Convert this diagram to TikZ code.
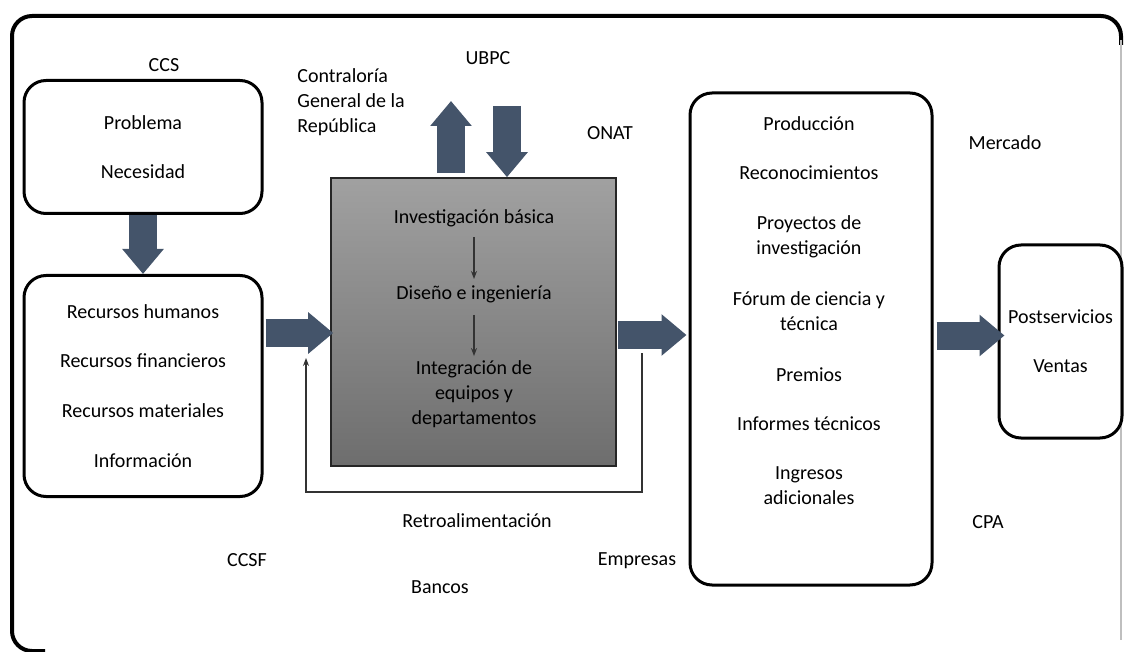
\documentclass[tikz,border=0pt]{standalone}
\usepackage{fontspec}
\setmainfont{Carlito}
\usetikzlibrary{arrows.meta, positioning, calc}
\definecolor{slateblue}{HTML}{44546A}
\tikzset{%
	round box/.style={
		draw,
		line width=1.5pt,
		rounded corners=11pt,
		align=center,
		inner sep=0pt
	},
	fat arrow/.style={
		draw=slateblue,
		line width=14pt,
		-{Triangle[width=20pt,length=12.5pt]}
	},
	thin arrow/.style={
		draw=black!80,
		line width=0.6pt,
		-{Stealth[length=4pt,width=3pt]}
	},
}

\begin{document}
\begin{tikzpicture}[
			x=0.5pt, y=-0.5pt,
			every node/.style={font=\fontsize{10pt}{12.5pt}\selectfont, align=center, inner sep=0pt},
			core text/.style={inner sep=1pt}
			]
			\useasboundingbox (0,0) rectangle (1124,652);
			
			% outer frame
			\draw[line width=2pt, rounded corners=10pt] (1121,45) -- (1121,16) -- (12,16) -- (12,651) -- (45,651);
			\draw[black!25, line width=0.8pt] (1121,40) -- (1121,640);
			
			% boxes
			\node[round box, minimum width=119pt, minimum height=66.5pt] (needs) at (143,147) {Problema\\[12pt]Necesidad};
			\node[round box, minimum width=119pt, minimum height=110.5pt] (inputs) at (143,386) {Recursos humanos\\[12pt]Recursos financieros\\[12.5pt]Recursos materiales\\[12.5pt]Información};
			\node[draw=black!85, line width=0.8pt, top color=black!37, bottom color=black!57,
				minimum width=142.5pt, minimum height=144pt] (core) at (473.5,322) {};
			\node[round box, minimum width=121pt, minimum height=246pt] (outputs) at (811,339) {};
			\node[round box, minimum width=61.5pt, minimum height=96.5pt] (final) at (1060.5,341.5) {Postservicios\\[12pt]Ventas};
			
			% box contents
			\node (outtext) at (809,311) {Producción\\[12pt]Reconocimientos\\[12.5pt]Proyectos de\\investigación\\[13pt]Fórum de ciencia y\\técnica\\[13pt]Premios\\[12pt]Informes técnicos\\[12pt]Ingresos\\adicionales};
			\node[core text] (basic) at (474,218) {Investigación básica};
			\node[core text] (design) at (474,294) {Diseño e ingeniería};
			\node[core text] (integ) at (474,394) {Integración de\\equipos y\\departamentos};
			
			% labels
			\node (ccs) at (164,65) {CCS};
			\node[anchor=west, align=left] (cgr) at (297,102) {Contraloría\\General de la\\República};
			\node (ubpc) at (488,58) {UBPC};
			\node (onat) at (610,133) {ONAT};
			\node (mercado) at (1005,143) {Mercado};
			\node (cpa) at (988,522) {CPA};
			\node (retro) at (477,521) {Retroalimentación};
			\node (ccsf) at (247,560) {CCSF};
			\node (bancos) at (440,587) {Bancos};
			\node (empresas) at (637,561) {Empresas};
			
			\coordinate (up end) at (451,101);
			\coordinate (down start) at (507,106);
			\coordinate (fb out) at (642,353);
			\coordinate (fb in) at (306,358);
			
			% connectors
			\draw[fat arrow] (needs.south) -- (inputs.north);
			\draw[fat arrow] ($(inputs.east |- core.west)+(2,11)$) -- ($(core.west)+(3,11)$);
			\draw[fat arrow] ($(core.east)+(1,13)$) -- ($(outputs.west |- core.east)+(-2,13)$);
			\draw[fat arrow] ($(outputs.east |- final.west)+(3,-6)$) -- ($(final.west)+(7,-6)$);
			\draw[fat arrow] ($(core.north)+(-22.5,-4)$) -- (up end);
			\draw[fat arrow] (down start) -- ($(core.north)+(33.5,0)$);
			
			\draw[thin arrow, shorten <=4pt, shorten >=2pt] (basic) -- (design);
			\draw[thin arrow, shorten <=5pt, shorten >=1pt] (design) -- (integ);
			\draw[thin arrow] (fb out) -- ++(0,139) -| (fb in);
			
		\end{tikzpicture}
\end{document}
